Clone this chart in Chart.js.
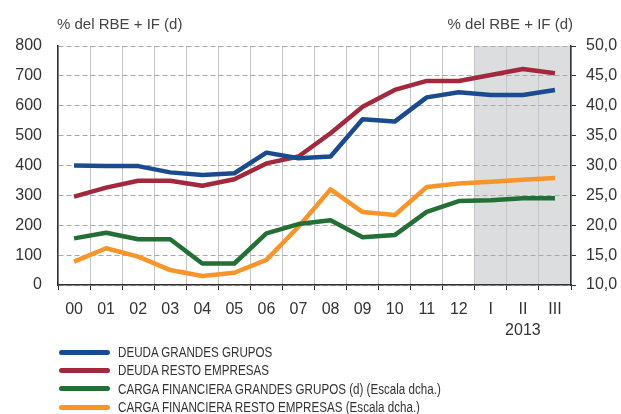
<!DOCTYPE html>
<html>
<head>
<meta charset="utf-8">
<script src="https://cdn.jsdelivr.net/npm/chart.js@4.4.1/dist/chart.umd.min.js"></script>
<style>
  html, body { margin: 0; padding: 0; background: #fff; }
  #wrap { position: relative; width: 621px; height: 414px; }
  .unit { position: absolute; top: 15px; font: 15px 'Liberation Sans', Arial, sans-serif; color: #444; }
  #legend { position: absolute; left: 59px; top: 343px; }
  .item { height: 18.3px; display: flex; align-items: center; }
  .swatch { width: 51px; height: 5px; border-radius: 3px; margin-right: 8px; flex: none; }
  .label { font: 14px 'Liberation Sans', Arial, sans-serif; color: #333; line-height: 18px;
           white-space: nowrap; display: inline-block; transform: scaleX(0.83); transform-origin: left center; }
</style>
</head>
<body>
<div id="wrap">
  <canvas id="chart" width="621" height="414"></canvas>
  <span class="unit" style="left:57px">% del RBE + IF (d)</span>
  <span class="unit" style="right:48px">% del RBE + IF (d)</span>
  <div id="legend"></div>
</div>
<script>
const labels = ['00', '01', '02', '03', '04', '05', '06', '07', '08', '09', '10', '11', '12', 'I', ['II', '2013'], 'III'];

// deuda, escala izquierda
const deudaGrandes = [400, 398, 398, 377, 368, 374, 443, 424, 430, 555, 547, 628, 645, 636, 636, 653];
const deudaResto = [296, 326, 349, 349, 332, 354, 407, 430, 508, 597, 653, 683, 683, 703, 723, 709];

// carga financiera, escala derecha
const cargaGrandes = [17.8, 18.75, 17.65, 17.65, 13.6, 13.6, 18.65, 20.2, 20.85, 18.0, 18.35, 22.25, 24.05, 24.2, 24.5, 24.5];
const cargaResto = [13.9, 16.15, 14.75, 12.5, 11.5, 12.05, 14.2, 19.75, 26.0, 22.2, 21.7, 26.4, 27.0, 27.3, 27.6, 27.9];

const firstShaded = 13; // trimestres de 2013

const tickFont = { family: "'Liberation Sans', Arial, sans-serif", size: 16 };

const shade = {
  id: 'shade',
  beforeDraw(chart) {
    const { ctx, chartArea, scales } = chart;
    const x = scales.x;
    const half = (x.getPixelForValue(1) - x.getPixelForValue(0)) / 2;
    const x0 = x.getPixelForValue(firstShaded) - half;
    ctx.save();
    ctx.fillStyle = '#dcdddf';
    ctx.fillRect(x0, chartArea.top, chartArea.right - x0, chartArea.bottom - chartArea.top);
    ctx.restore();
  }
};

function series(label, data, color, axis) {
  return {
    label, data, yAxisID: axis,
    borderColor: color, backgroundColor: color,
    borderWidth: 4.5, pointRadius: 0, tension: 0,
    borderJoinStyle: 'round'
  };
}

const chart = new Chart(document.getElementById('chart'), {
  type: 'line',
  data: {
    labels,
    datasets: [
      series('DEUDA GRANDES GRUPOS', deudaGrandes, '#1b4b8f', 'y'),
      series('DEUDA RESTO EMPRESAS', deudaResto, '#a2283d', 'y'),
      series('CARGA FINANCIERA GRANDES GRUPOS (d) (Escala dcha.)', cargaGrandes, '#236f36', 'y1'),
      series('CARGA FINANCIERA RESTO EMPRESAS (Escala dcha.)', cargaResto, '#f7952b', 'y1')
    ]
  },
  options: {
    responsive: false,
    animation: false,
    layout: { padding: { top: 46, bottom: 79, left: 0, right: 0 } },
    plugins: { legend: { display: false }, tooltip: { enabled: false } },
    scales: {
      x: {
        offset: true,
        grid: { offset: true, color: '#c4c4c4', lineWidth: 1, tickLength: 5, tickColor: '#333' },
        border: { color: '#333', width: 1.5 },
        ticks: { color: '#333', font: { ...tickFont, lineHeight: 1.3 }, padding: 9, maxRotation: 0, autoSkip: false },
        afterFit(s) { s.height = 50; }
      },
      y: {
        position: 'left',
        min: 0, max: 800,
        grid: { color: '#a8a8a8', drawTicks: false },
        border: { color: '#333', width: 1.5, dash: [5, 3] },
        ticks: { stepSize: 100, color: '#333', font: tickFont, padding: 16 },
        afterFit(s) { s.width = 58; }
      },
      y1: {
        position: 'right',
        min: 10, max: 50,
        grid: { drawOnChartArea: false, tickLength: 5, tickColor: '#333' },
        border: { color: '#333', width: 1.5 },
        ticks: {
          stepSize: 5, color: '#333', font: tickFont, padding: 10,
          callback: v => v.toFixed(1).replace('.', ',')
        },
        afterFit(s) { s.width = 50; }
      }
    }
  },
  plugins: [shade]
});

// leyenda en HTML a partir de las series
document.getElementById('legend').innerHTML = chart.data.datasets.map(d =>
  `<div class="item"><span class="swatch" style="background:${d.borderColor}"></span><span class="label">${d.label}</span></div>`
).join('');
</script>
</body>
</html>
